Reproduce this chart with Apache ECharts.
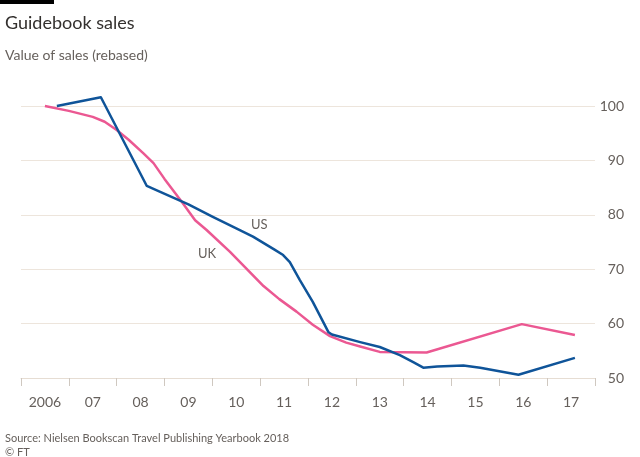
<!DOCTYPE html>
<html>
<head>
<meta charset="utf-8">
<script src="https://cdn.jsdelivr.net/npm/echarts@6/dist/echarts.min.js"></script>
<style>
html,body{margin:0;padding:0;background:#fff;}
#chart{width:640px;height:457px;}
</style>
</head>
<body>
<div id="chart"></div>
<script>
// Category tick labels (years)
var categories = ['2006','07','08','09','10','11','12','13','14','15','16','17'];
var yTicks = [50, 60, 70, 80, 90, 100];
// Series as [position on year axis (0 = 2006), value]
var usData = [
  [0.25, 100.0], [1.17, 101.6], [2.13, 85.3], [2.34, 84.5], [3.0, 81.9],
  [3.51, 79.6], [4.0, 77.5], [4.35, 76.0], [4.8, 73.6], [4.98, 72.6],
  [5.12, 71.3], [5.33, 68.0], [5.6, 64.0], [5.93, 58.4], [6.0, 58.0],
  [6.59, 56.6], [7.0, 55.7], [7.42, 54.2], [7.70, 52.9], [7.91, 51.9],
  [8.2, 52.1], [8.75, 52.3], [9.1, 51.9], [9.9, 50.6], [11.08, 53.7]
];
var ukData = [
  [0.0, 100.0], [0.5, 99.1], [1.0, 98.0], [1.25, 97.1], [1.5, 95.6],
  [1.75, 93.8], [2.06, 91.3], [2.27, 89.5], [2.5, 86.6], [2.86, 82.4],
  [3.14, 79.0], [3.38, 77.2], [3.87, 73.2], [4.57, 66.9], [4.9, 64.5],
  [5.26, 62.2], [5.6, 59.8], [5.96, 57.7], [6.3, 56.5], [6.59, 55.8],
  [7.0, 54.8], [7.98, 54.7], [9.97, 59.9], [11.08, 57.9]
];

var FONT = 'Lato, "Noto Sans", sans-serif';
var chart = echarts.init(document.getElementById('chart'));
chart.setOption({
  animation: false,
  backgroundColor: '#ffffff',
  title: [
    {text: 'Guidebook sales', left: 0, top: 9,
     textStyle: {fontFamily: FONT, fontSize: 18, fontWeight: 'normal', color: '#33302e'}},
    {text: 'Value of sales (rebased)', left: 0, top: 43,
     textStyle: {fontFamily: FONT, fontSize: 14, fontWeight: 'normal', color: '#66605c'}},
    {text: 'Source: Nielsen Bookscan Travel Publishing Yearbook 2018', left: 0, top: 428,
     textStyle: {fontFamily: FONT, fontSize: 11, fontWeight: 'normal', color: '#66605c'}},
    {text: '\u00A9 FT', left: 0, top: 442,
     textStyle: {fontFamily: FONT, fontSize: 11, fontWeight: 'normal', color: '#66605c'}}
  ],
  graphic: [
    {type: 'rect', left: 0, top: 0, shape: {width: 54, height: 4}, style: {fill: '#000000'}}
  ],
  grid: {left: 21, right: 45, top: 106, bottom: 79},
  xAxis: [
    {type: 'category', data: categories, boundaryGap: true,
     axisLine: {show: true, lineStyle: {color: '#e6ddd3', width: 1}},
     axisTick: {show: true, length: 8, lineStyle: {color: '#cfc8c0'}},
     axisLabel: {fontFamily: FONT, fontSize: 14, color: '#66605c', margin: 17},
     splitLine: {show: false}},
    {type: 'value', min: -0.5, max: 11.5, show: false}
  ],
  yAxis: {
    type: 'value', position: 'right', min: yTicks[0], max: yTicks[yTicks.length - 1], interval: 10,
    axisLine: {show: false}, axisTick: {show: false},
    axisLabel: {fontFamily: FONT, fontSize: 14, color: '#66605c', align: 'right', margin: 29},
    splitLine: {show: true, lineStyle: {color: '#ede5dc', width: 1}}
  },
  series: [
    {name: 'UK', type: 'line', xAxisIndex: 1, data: ukData, smooth: false, clip: false,
     showSymbol: false, symbol: 'none', lineStyle: {color: '#eb5892', width: 2.5, join: 'round'},
     markPoint: {symbol: 'circle', symbolSize: 0,
       data: [{coord: [3.39, 72.8], value: 'UK'}],
       label: {show: true, formatter: 'UK', position: 'inside', fontFamily: FONT, fontSize: 13, color: '#66605c'}}},
    {name: 'US', type: 'line', xAxisIndex: 1, data: usData, smooth: false, clip: false,
     showSymbol: false, symbol: 'none', lineStyle: {color: '#0f5499', width: 2.5, join: 'round'},
     markPoint: {symbol: 'circle', symbolSize: 0,
       data: [{coord: [4.48, 78.1], value: 'US'}],
       label: {show: true, formatter: 'US', position: 'inside', fontFamily: FONT, fontSize: 13, color: '#66605c'}}}
  ]
});
</script>
</body>
</html>
